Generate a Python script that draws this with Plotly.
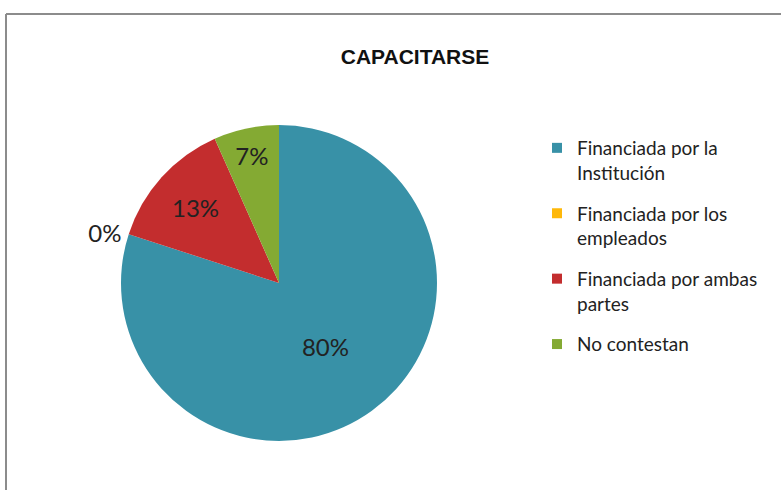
import plotly.graph_objects as go

categories = ["Financiada por la<br>Institución", "Financiada por los<br>empleados",
              "Financiada por ambas<br>partes", "No contestan"]
values = [12, 0, 2, 1]
colors = ["#3891A7", "#FEB80A", "#C32D2E", "#84AA33"]
title = "CAPACITARSE"

W, H = 781, 490

fig = go.Figure(go.Pie(
    labels=categories,
    values=values,
    sort=False,
    direction="clockwise",
    rotation=0,
    marker=dict(colors=colors, line=dict(width=0)),
    texttemplate="%{percent:.0%}",
    textposition=["inside", "outside", "inside", "inside"],
    insidetextorientation="horizontal",
    textfont=dict(family="Lato, Carlito, sans-serif", size=24, color="#222"),
    domain=dict(x=[121 / W, 437 / W], y=[(H - 441) / H, (H - 125) / H]),
    hoverinfo="label+percent",
    showlegend=False,
))

# legend entries (one group per slice so the group gap spaces them like the original)
for i, (cat, col) in enumerate(zip(categories, colors)):
    fig.add_trace(go.Scatter(
        x=[None], y=[None], mode="markers", name=cat,
        marker=dict(symbol="square", size=10, color=col),
        legendgroup="g%d" % i, showlegend=True, hoverinfo="skip",
    ))

fig.update_layout(
    width=W, height=H,
    margin=dict(l=0, r=0, t=0, b=0),
    paper_bgcolor="white",
    plot_bgcolor="white",
    xaxis=dict(visible=False),
    yaxis=dict(visible=False),
    title=dict(text="<b>" + title + "</b>", x=415 / W, xanchor="center", y=1 - 57 / H, yanchor="middle",
               font=dict(family="Liberation Sans Narrow, Liberation Sans, Arial", size=21, color="#111")),
    legend=dict(x=537 / W, y=1 - 129 / H, xanchor="left", yanchor="top",
                font=dict(family="Lato, Carlito, sans-serif", size=19, color="#222"),
                valign="top", tracegroupgap=13, itemwidth=30, bgcolor="rgba(0,0,0,0)"),
    shapes=[
        dict(type="line", xref="paper", yref="paper", x0=6 / W, x1=1.01, y0=1 - 14 / H, y1=1 - 14 / H,
             line=dict(color="#8c8c8c", width=2)),
        dict(type="line", xref="paper", yref="paper", x0=6 / W, x1=6 / W, y0=-0.01, y1=1 - 14 / H,
             line=dict(color="#8c8c8c", width=2)),
    ],
)

fig.write_html("out.html")
